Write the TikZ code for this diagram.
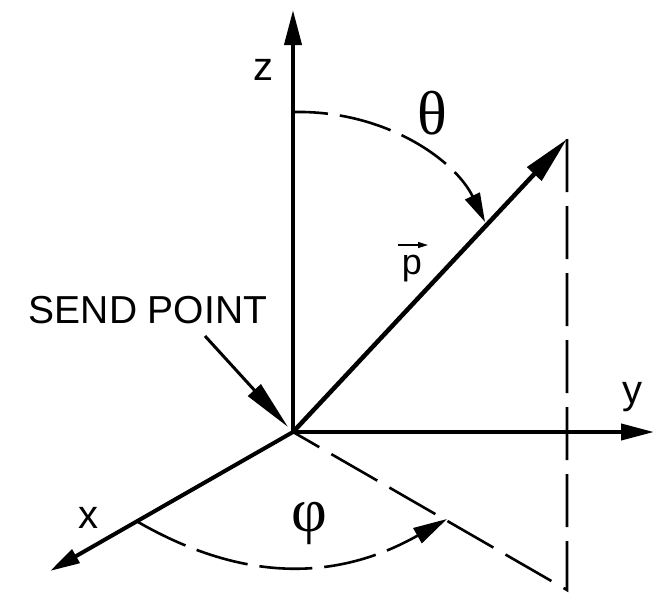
\documentclass[tikz,border=0pt]{standalone}
\usepackage{fontspec}
\setmainfont{Liberation Sans}
\newfontfamily\grk{Liberation Serif}
\usetikzlibrary{arrows.meta}
\begin{document}
\begin{tikzpicture}[x=1pt,y=-1pt,
  axis/.style={line width=4pt},
  dashline/.style={line width=2.6pt, dash pattern=on 53pt off 14pt},
  anglearc/.style={line width=2.6pt, dash pattern=on 53pt off 12pt},
  lbl/.style={inner sep=0pt, anchor=base, font=\fontsize{40}{48}\selectfont},
  grlbl/.style={inner sep=0pt, font=\grk\fontsize{62}{70}\selectfont}]
\useasboundingbox (0,0) rectangle (666,600);
\coordinate (O) at (293,432);
\coordinate (zend) at (293,10);
\coordinate (yend) at (654,432);
\coordinate (xend) at (50,571);
\coordinate (ptip) at (567,139);
\coordinate (pfoot) at (567,590);
\coordinate (tstart) at (293,112);
\coordinate (tend) at (485,222);
\coordinate (fstart) at (138,522);
\coordinate (fend) at (447,519);
\coordinate (sendtail) at (205,336);
\coordinate (sendtip) at (288,427);
\coordinate (pvA) at (398,245);
\coordinate (pvB) at (428,245);

% projection lines
\draw[dashline] (ptip) -- (pfoot) -- (O);

% axes
\draw[axis, -{Triangle[length=35pt,width=17pt]}] (O) -- (zend);
\draw[axis, -{Triangle[length=33pt,width=16pt]}] (O) -- (yend);
\draw[axis, -{Triangle[length=30pt,width=15pt]}] (O) -- (xend);

% vector p
\draw[line width=4.5pt, -{Triangle[length=48pt,width=19pt]}] (O) -- (ptip);

% send point arrow
\draw[line width=3pt, -{Triangle[length=50pt,width=17pt]}] (sendtail) -- (sendtip);

% angle arcs
\draw[anglearc, dash phase=18pt, -{Triangle[length=29pt,width=16pt]}]
  (tstart) .. controls (385,110) and (455,160) .. (tend);
\draw[anglearc, -{Triangle[length=34pt,width=17pt]}]
  (fstart) .. controls (246,584) and (339,580) .. (fend);

% labels
\node[lbl] (zl) at (263.5,80) {z};
\node[lbl] (yl) at (632,403) {y};
\node[lbl] (xl) at (88.5,528) {x};
\node[lbl, font=\fontsize{39}{46}\selectfont] (send) at (148,323) {SEND POINT};
\node[lbl, font=\fontsize{36}{42}\selectfont] (pl) at (412,274) {p};
\draw[line width=1.5pt, -{Triangle[length=10pt,width=6pt]}] (pvA) -- (pvB);
\node[grlbl] (th) at (432,113.5) {θ};
\node[grlbl] (ph) at (309,523.5) {φ};
\end{tikzpicture}
\end{document}
